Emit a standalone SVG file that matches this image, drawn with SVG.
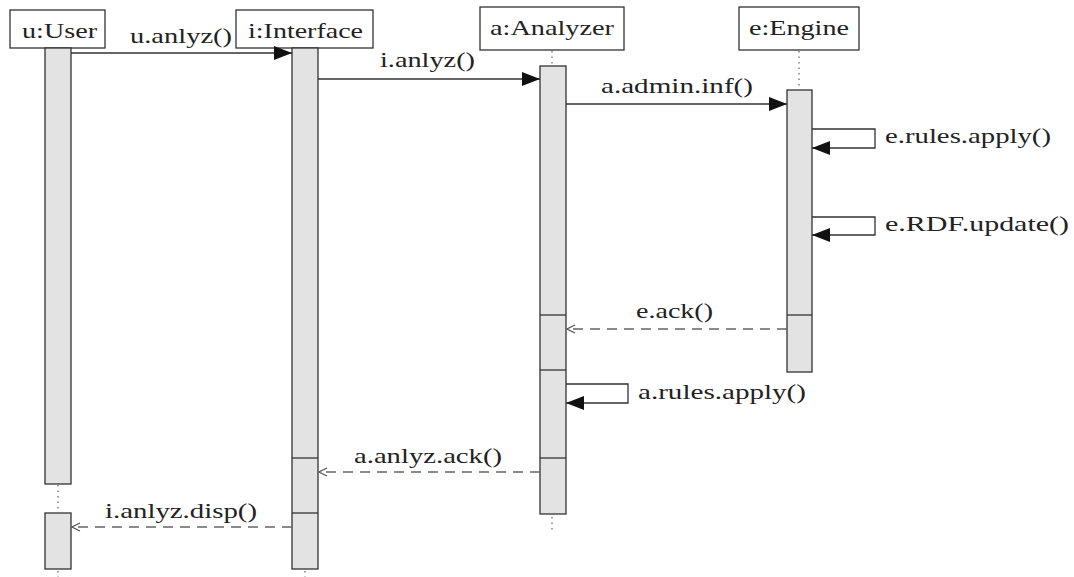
<svg xmlns="http://www.w3.org/2000/svg" width="1074" height="577" viewBox="0 0 1074 577">
<defs>
<marker id="solid" markerWidth="18" markerHeight="14" refX="18" refY="7" orient="auto" markerUnits="userSpaceOnUse"><path d="M0,0 L18,7 L0,14 Z" fill="#111"/></marker>
<marker id="open" markerWidth="10" markerHeight="10" refX="9" refY="5" orient="auto" markerUnits="userSpaceOnUse"><path d="M1,1 L9,5 L1,9" fill="none" stroke="#555" stroke-width="1.2"/></marker>
</defs>
<style>
.box{fill:#fff;stroke:#333;stroke-width:1.3}
.bar{fill:#e3e3e3;stroke:#333;stroke-width:1.3}
.sep{stroke:#333;stroke-width:1.3}
.life{stroke:#666;stroke-width:1.2;stroke-dasharray:1.5 4}
.msg{fill:none;stroke:#333;stroke-width:1.3}
.ret{fill:none;stroke:#666;stroke-width:1.4;stroke-dasharray:10 7}
text{font-family:"Liberation Serif","DejaVu Serif",serif;font-size:22px;fill:#222}
</style>
<g id="user">
<rect class="box" x="10" y="10" width="95" height="38"/>
<text x="22" y="38" textLength="75" lengthAdjust="spacingAndGlyphs">u:User</text>
<rect class="bar" x="45" y="48" width="26" height="436"/>
<line class="life" x1="58" y1="485" x2="58" y2="512"/>
<rect class="bar" x="45" y="513" width="26" height="56"/>
<line class="life" x1="58" y1="571" x2="58" y2="577"/>
</g>
<g id="interface">
<rect class="box" x="236" y="10" width="137" height="38"/>
<text x="248" y="38" textLength="115" lengthAdjust="spacingAndGlyphs">i:Interface</text>
<rect class="bar" x="292" y="48" width="26" height="521"/>
<line class="sep" x1="292" y1="458" x2="318" y2="458"/>
<line class="sep" x1="292" y1="513" x2="318" y2="513"/>
<line class="life" x1="305" y1="571" x2="305" y2="577"/>
</g>
<g id="analyzer">
<rect class="box" x="480" y="7" width="144" height="43"/>
<text x="490" y="35" textLength="124" lengthAdjust="spacingAndGlyphs">a:Analyzer</text>
<line class="life" x1="552" y1="51" x2="552" y2="65"/>
<rect class="bar" x="540" y="66" width="26" height="448"/>
<line class="sep" x1="540" y1="315" x2="566" y2="315"/>
<line class="sep" x1="540" y1="370" x2="566" y2="370"/>
<line class="sep" x1="540" y1="458" x2="566" y2="458"/>
<line class="life" x1="552" y1="517" x2="552" y2="530"/>
</g>
<g id="engine">
<rect class="box" x="739" y="7" width="120" height="43"/>
<text x="749" y="35" textLength="100" lengthAdjust="spacingAndGlyphs">e:Engine</text>
<line class="life" x1="799" y1="51" x2="799" y2="89"/>
<rect class="bar" x="787" y="90" width="25" height="282"/>
<line class="sep" x1="787" y1="315" x2="812" y2="315"/>
</g>
<g id="connectors">
<line class="msg" x1="71" y1="53" x2="292" y2="53" marker-end="url(#solid)"/>
<text x="130" y="43" textLength="102" lengthAdjust="spacingAndGlyphs">u.anlyz()</text>
<line class="msg" x1="318" y1="79" x2="540" y2="79" marker-end="url(#solid)"/>
<text x="380" y="67" textLength="95" lengthAdjust="spacingAndGlyphs">i.anlyz()</text>
<line class="msg" x1="566" y1="104" x2="787" y2="104" marker-end="url(#solid)"/>
<text x="601" y="93" textLength="152" lengthAdjust="spacingAndGlyphs">a.admin.inf()</text>
<path class="msg" d="M812,129 H875 V148 H812" marker-end="url(#solid)"/>
<text x="885" y="143" textLength="166" lengthAdjust="spacingAndGlyphs">e.rules.apply()</text>
<path class="msg" d="M812,217 H875 V235 H812" marker-end="url(#solid)"/>
<text x="885" y="231" textLength="184" lengthAdjust="spacingAndGlyphs">e.RDF.update()</text>
<line class="ret" x1="787" y1="329" x2="567" y2="329" marker-end="url(#open)"/>
<text x="636" y="318" textLength="77" lengthAdjust="spacingAndGlyphs">e.ack()</text>
<path class="msg" d="M566,384 H628 V403 H566" marker-end="url(#solid)"/>
<text x="638" y="399" textLength="168" lengthAdjust="spacingAndGlyphs">a.rules.apply()</text>
<line class="ret" x1="540" y1="472" x2="319" y2="472" marker-end="url(#open)"/>
<text x="354" y="463" textLength="148" lengthAdjust="spacingAndGlyphs">a.anlyz.ack()</text>
<line class="ret" x1="292" y1="527" x2="72" y2="527" marker-end="url(#open)"/>
<text x="105" y="518" textLength="152" lengthAdjust="spacingAndGlyphs">i.anlyz.disp()</text>
</g>
</svg>
